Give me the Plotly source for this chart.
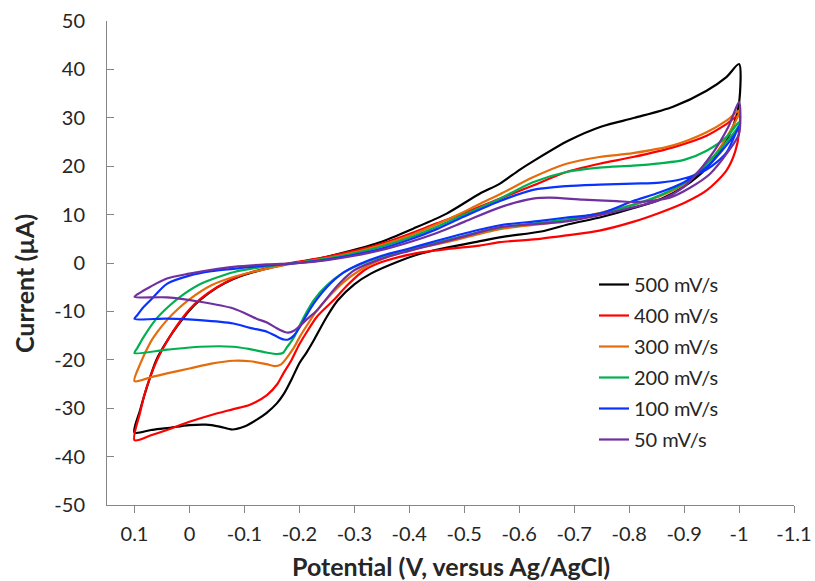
import plotly.graph_objects as go

# ---------------- data (E in V vs Ag/AgCl, I in µA) ----------------
series_names = ["500 mV/s", "400 mV/s", "300 mV/s", "200 mV/s", "100 mV/s", "50 mV/s"]
series_colors = ["#000000", "#FF0000", "#E46C0A", "#00B050", "#0A32FF", "#7030A0"]

# 500 mV/s : lower branch (0.1 -> -1.0) then upper branch (-1.0 -> 0.1)
e_500 = [0.1, 0.07, 0.04, 0.0, -0.03, -0.055, -0.078, -0.1, -0.122, -0.14, -0.159, -0.172, -0.186, -0.2,
         -0.213, -0.226, -0.25, -0.27, -0.3, -0.33, -0.38, -0.42, -0.46, -0.52, -0.57, -0.64, -0.69, -0.75,
         -0.81, -0.86, -0.9, -0.94, -0.97, -0.99, -1.0,
         -1.0, -0.977, -0.941, -0.88, -0.81, -0.75, -0.69, -0.625, -0.6, -0.565, -0.528, -0.468, -0.407,
         -0.347, -0.286, -0.25, -0.2, -0.17, -0.14, -0.11, -0.08, -0.05, -0.02, 0.0, 0.02, 0.04, 0.06, 0.077,
         0.09, 0.1]
i_500 = [-35.0, -34.5, -34.1, -33.5, -33.4, -33.8, -34.4, -33.8, -32.4, -31.0, -29.0, -27.0, -24.0, -20.7,
         -18.5, -16.0, -11.1, -7.7, -4.4, -2.2, 0.3, 1.9, 3.0, 4.3, 5.4, 6.5, 8.0, 9.5,
         11.4, 13.3, 15.8, 19.5, 24.0, 28.5, 33.0,
         41.1, 38.4, 35.6, 32.3, 30.0, 28.2, 25.3, 21.0, 19.2, 16.4, 14.3, 10.2, 7.1,
         4.3, 2.3, 1.3, 0.2, -0.4, -1.2, -2.1, -3.3, -5.1, -7.6, -9.8, -12.7, -16.0, -20.0, -25.5,
         -30.5, -35.0]

# 400 mV/s
e_400 = [0.1, 0.07, 0.041, 0.0, -0.04, -0.08, -0.11, -0.141, -0.16, -0.171, -0.185, -0.2, -0.215, -0.232,
         -0.262, -0.29, -0.318, -0.35, -0.407, -0.47, -0.528, -0.565, -0.638, -0.686, -0.746, -0.807, -0.856,
         -0.9, -0.941, -0.977, -0.993, -1.0,
         -1.0, -0.977, -0.941, -0.88, -0.807, -0.746, -0.686, -0.625, -0.565, -0.528, -0.5, -0.45, -0.4,
         -0.35, -0.3, -0.25, -0.2, -0.17, -0.14, -0.11, -0.08, -0.05, -0.02, 0.0, 0.02, 0.04, 0.06, 0.08,
         0.09, 0.1]
i_400 = [-36.6, -35.6, -34.5, -32.8, -31.4, -30.2, -29.3, -27.3, -25.0, -22.8, -20.2, -16.8, -14.0, -11.1,
         -7.7, -4.3, -1.5, 0.2, 1.9, 2.9, 3.6, 4.3, 5.0, 5.7, 6.7, 8.5, 10.4,
         12.4, 15.0, 19.1, 23.0, 27.0,
         30.5, 28.7, 26.3, 23.9, 21.9, 20.5, 18.8, 16.0, 13.3, 11.6, 10.3, 8.2, 6.0,
         4.0, 2.5, 1.3, 0.3, -0.3, -1.1, -2.0, -3.2, -5.0, -7.4, -9.6, -12.5, -16.0, -20.3, -26.5,
         -31.0, -36.6]

# 300 mV/s
e_300 = [0.1, 0.07, 0.041, 0.0, -0.04, -0.08, -0.11, -0.14, -0.155, -0.166, -0.177, -0.19, -0.201, -0.216,
         -0.232, -0.25, -0.28, -0.31, -0.35, -0.4, -0.468, -0.565, -0.638, -0.686, -0.746, -0.807, -0.856,
         -0.9, -0.95, -0.98, -1.0,
         -1.0, -0.977, -0.941, -0.88, -0.807, -0.746, -0.686, -0.625, -0.565, -0.528, -0.5, -0.45, -0.4,
         -0.35, -0.3, -0.25, -0.2, -0.14, -0.08, -0.04, 0.0, 0.02, 0.041, 0.06, 0.071, 0.089, 0.1]
i_300 = [-24.4, -23.6, -22.8, -21.8, -20.8, -20.2, -20.3, -20.9, -21.3, -21.0, -19.6, -17.5, -15.2, -12.5,
         -9.8, -7.4, -4.0, -1.5, 0.8, 2.6, 4.3, 7.0, 8.0, 8.8, 10.3, 12.0, 13.8,
         16.3, 21.5, 26.5, 31.0,
         31.5, 29.4, 27.0, 24.3, 22.7, 21.9, 20.5, 17.7, 14.2, 12.2, 10.6, 8.0, 5.6,
         3.7, 2.2, 1.0, 0.1, -1.2, -2.9, -4.6, -7.5, -9.4, -11.8, -14.5, -16.4, -20.7, -24.4]

# 200 mV/s
e_200 = [0.1, 0.041, -0.019, -0.08, -0.11, -0.14, -0.16, -0.17, -0.177, -0.19, -0.201, -0.213, -0.226,
         -0.25, -0.28, -0.31, -0.35, -0.4, -0.45, -0.5, -0.565, -0.638, -0.686, -0.746, -0.807, -0.856,
         -0.9, -0.941, -0.977, -1.0,
         -1.0, -0.977, -0.941, -0.9, -0.856, -0.807, -0.746, -0.686, -0.625, -0.565, -0.5, -0.45, -0.4,
         -0.35, -0.3, -0.25, -0.2, -0.14, -0.08, -0.05, -0.019, 0.017, 0.041, 0.06, 0.084, 0.095, 0.1]
i_200 = [-18.6, -17.9, -17.3, -17.3, -17.8, -18.5, -18.8, -18.6, -17.5, -15.4, -12.8, -10.2, -7.7,
         -4.6, -2.0, -0.3, 1.3, 2.8, 4.2, 5.6, 7.3, 8.3, 9.0, 10.2, 12.0, 14.0,
         16.5, 20.5, 25.0, 28.5,
         29.1, 26.0, 23.2, 21.3, 20.6, 20.1, 19.7, 18.8, 16.7, 13.3, 10.0, 7.5, 5.2,
         3.4, 2.0, 0.9, 0.1, -0.7, -1.9, -3.0, -4.4, -7.0, -9.3, -11.5, -15.4, -17.6, -18.6]

# 100 mV/s
e_100 = [0.1, 0.041, -0.019, -0.08, -0.11, -0.141, -0.159, -0.172, -0.18, -0.19, -0.201, -0.213, -0.226,
         -0.25, -0.28, -0.31, -0.35, -0.4, -0.45, -0.5, -0.565, -0.638, -0.686, -0.746, -0.807, -0.856,
         -0.9, -0.941, -0.977, -1.0,
         -1.0, -0.977, -0.941, -0.898, -0.856, -0.807, -0.746, -0.686, -0.625, -0.565, -0.5, -0.45, -0.4,
         -0.35, -0.3, -0.25, -0.2, -0.14, -0.08, -0.04, 0.0, 0.041, 0.071, 0.085, 0.095, 0.1]
i_100 = [-11.5, -11.5, -11.8, -12.5, -13.4, -14.2, -15.2, -15.8, -15.8, -15.0, -13.2, -10.8, -8.4,
         -5.0, -2.0, -0.2, 1.5, 3.0, 4.6, 6.1, 7.8, 8.7, 9.4, 10.2, 12.8, 14.6,
         16.7, 19.8, 24.3, 28.0,
         28.3, 22.8, 19.3, 17.4, 16.6, 16.4, 16.2, 15.9, 15.1, 12.8, 9.6, 7.0, 4.8,
         3.0, 1.7, 0.7, 0.0, -0.5, -1.2, -1.7, -2.6, -4.3, -7.7, -9.3, -10.8, -11.5]

# 50 mV/s
e_50 = [0.1, 0.041, -0.019, -0.08, -0.122, -0.141, -0.159, -0.172, -0.18, -0.19, -0.201, -0.215, -0.232,
        -0.262, -0.28, -0.3, -0.35, -0.4, -0.45, -0.5, -0.565, -0.686, -0.807, -0.856, -0.9, -0.947,
        -0.98, -1.0,
        -1.0, -0.98, -0.947, -0.91, -0.874, -0.813, -0.777, -0.716, -0.656, -0.625, -0.565, -0.5, -0.45,
        -0.4, -0.35, -0.3, -0.25, -0.2, -0.14, -0.08, -0.04, 0.0, 0.041, 0.071, 0.085, 0.095, 0.1]
i_50 = [-7.0, -7.1, -8.0, -9.4, -11.5, -12.3, -13.5, -14.2, -14.4, -14.0, -13.0, -11.5, -9.8,
        -5.6, -3.4, -1.5, 0.9, 2.5, 4.0, 5.5, 7.4, 8.6, 11.5, 13.0, 15.8, 21.9,
        28.0, 33.3,
        26.7, 23.0, 18.4, 15.5, 13.5, 12.6, 12.8, 13.1, 13.5, 13.3, 11.5, 8.5, 6.2,
        4.3, 2.7, 1.5, 0.6, 0.0, -0.3, -0.8, -1.4, -2.2, -3.2, -4.9, -5.8, -6.5, -7.0]

x_tick_vals = [0.1, 0.0, -0.1, -0.2, -0.3, -0.4, -0.5, -0.6, -0.7, -0.8, -0.9, -1.0, -1.1]
x_tick_text = ["0.1", "0", "-0.1", "-0.2", "-0.3", "-0.4", "-0.5", "-0.6", "-0.7", "-0.8", "-0.9", "-1", "-1.1"]
y_tick_vals = [50, 40, 30, 20, 10, 0, -10, -20, -30, -40, -50]
y_tick_text = ["50", "40", "30", "20", "10", "0", "-10", "-20", "-30", "-40", "-50"]

x_title = "Potential (V, versus Ag/AgCl)"
y_title = "Current (µA)"

# ---------------- figure ----------------
W, H = 815, 581
ML, MR, MT, MB = 107, 21, 21, 76
PW, PH = W - ML - MR, H - MT - MB


def px_to_paper_x(px):
    return (px - ML) / PW


def px_to_paper_y(py):
    return (H - MB - py) / PH


FONT = "Lato"
TXT = "#262626"
AXC = "#868686"

xs = [e_500, e_400, e_300, e_200, e_100, e_50]
ys = [i_500, i_400, i_300, i_200, i_100, i_50]

fig = go.Figure()
for name, col, ex, iy in zip(series_names, series_colors, xs, ys):
    fig.add_trace(go.Scatter(
        x=ex, y=iy, mode="lines", name=name, legendgroup=name,
        line=dict(color=col, width=2.2, shape="spline", smoothing=0.8),
    ))

fig.update_layout(
    width=W, height=H,
    margin=dict(l=ML, r=MR, t=MT, b=MB, pad=0, autoexpand=False),
    paper_bgcolor="white", plot_bgcolor="white",
    font=dict(family=FONT, size=20, color=TXT),
    showlegend=True,
    legend=dict(
        x=px_to_paper_x(594), y=px_to_paper_y(265), xanchor="left", yanchor="top",
        font=dict(family=FONT, size=20, color=TXT),
        bgcolor="rgba(0,0,0,0)", borderwidth=0, tracegroupgap=2,
        itemwidth=30,
    ),
    xaxis=dict(
        range=[0.15, -1.1], autorange=False,
        tickmode="array", tickvals=x_tick_vals, ticktext=x_tick_text,
        ticks="outside", ticklen=7, tickcolor=AXC, tickwidth=1,
        showline=True, linecolor=AXC, linewidth=1, mirror=False,
        showgrid=False, zeroline=False, automargin=False,
        tickfont=dict(family=FONT, size=20, color=TXT),
        ticklabelstandoff=4,
    ),
    yaxis=dict(
        range=[-50, 50], autorange=False,
        tickmode="array", tickvals=y_tick_vals, ticktext=y_tick_text,
        ticks="inside", ticklen=7, tickcolor=AXC, tickwidth=1,
        showline=True, linecolor=AXC, linewidth=1, mirror=False,
        showgrid=False, zeroline=False, automargin=False,
        tickfont=dict(family=FONT, size=20, color=TXT),
        ticklabelstandoff=17,
    ),
    annotations=[
        dict(text="<b>" + x_title + "</b>", xref="paper", yref="paper",
             x=px_to_paper_x(450.6), y=px_to_paper_y(566), xanchor="center", yanchor="middle",
             showarrow=False, font=dict(family=FONT, size=25, color=TXT)),
        dict(text="<b>" + y_title + "</b>", xref="paper", yref="paper", textangle=-90,
             x=px_to_paper_x(24), y=px_to_paper_y(284), xanchor="center", yanchor="middle",
             showarrow=False, font=dict(family=FONT, size=25, color=TXT)),
    ],
)

fig.write_html(
    "out.html",
    config={"displayModeBar": False},
    post_script="document.body.style.margin='0';document.body.style.padding='0';",
)
